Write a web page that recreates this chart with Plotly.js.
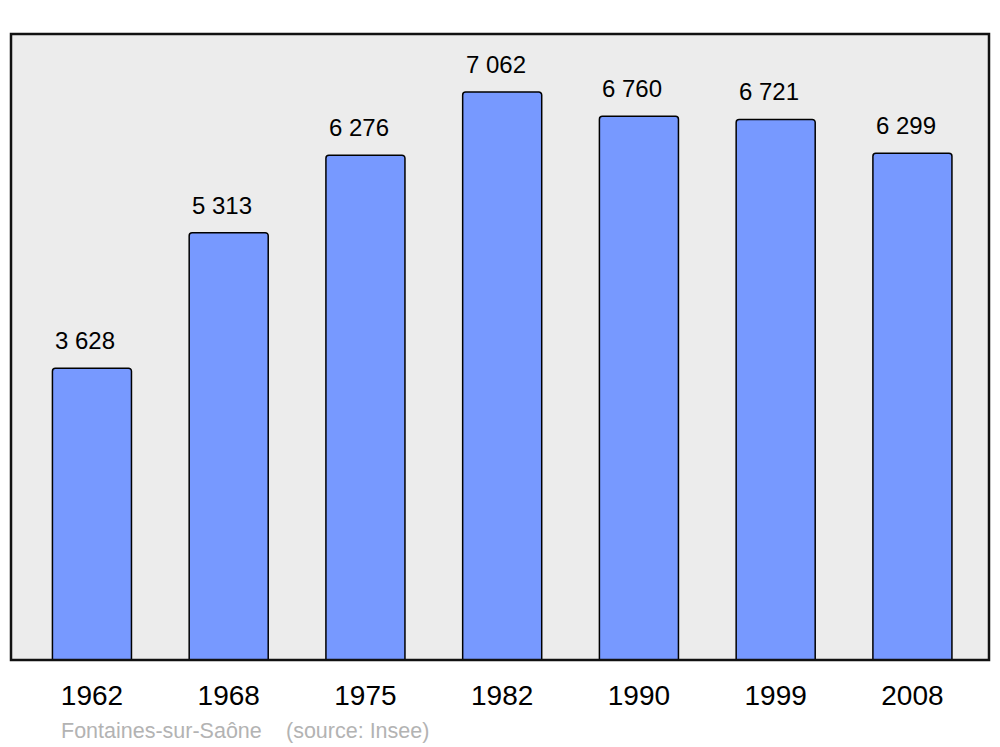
<!DOCTYPE html>
<html>
<head>
<meta charset="utf-8">
<script src="https://cdn.plot.ly/plotly-3.0.1.min.js"></script>
<style>html,body{margin:0;padding:0;background:#fff;}#chart{width:1000px;height:747px;}</style>
</head>
<body>
<div id="chart"></div>
<script>
const years = ["1962", "1968", "1975", "1982", "1990", "1999", "2008"];
const population = [3628, 5313, 6276, 7062, 6760, 6721, 6299];
const labels = ["3 628", "5 313", "6 276", "7 062", "6 760", "6 721", "6 299"];
const sourceText = ["Fontaines-sur-Saône", "(source: Insee)"];

const W = 1000, H = 747;
const ml = 11, mr = 11, mt = 34, mb = 87;
const pw = W - ml - mr;
function px(x) { return (x - ml) / pw; }

const trace = {
  type: 'bar',
  x: years.map((_, i) => i),
  y: population,
  width: 0.578,
  marker: { color: '#7799ff', line: { color: '#000', width: 1.5 }, cornerradius: 3 },
  hoverinfo: 'none'
};

const annotations = years.map((_, i) => ({
  x: i, y: population[i], xref: 'x', yref: 'y',
  text: labels[i], showarrow: false, yanchor: 'middle', yshift: 27.5, xshift: -6.5,
  font: { family: 'Liberation Sans, Arial, sans-serif', size: 24, color: '#000' }
}));
annotations.push({
  x: px(60), y: -0.113, xref: 'paper', yref: 'paper', xanchor: 'left', yanchor: 'middle',
  text: sourceText[0], showarrow: false, borderpad: 0,
  font: { family: 'Liberation Sans, Arial, sans-serif', size: 21.5, color: '#b3b3b3' }
});
annotations.push({
  x: px(285), y: -0.113, xref: 'paper', yref: 'paper', xanchor: 'left', yanchor: 'middle',
  text: sourceText[1], showarrow: false, borderpad: 0,
  font: { family: 'Liberation Sans, Arial, sans-serif', size: 21.5, color: '#b3b3b3' }
});

const layout = {
  width: W, height: H,
  margin: { l: ml, r: mr, t: mt, b: mb, pad: 0 },
  paper_bgcolor: '#fff',
  plot_bgcolor: '#ececec',
  showlegend: false,
  xaxis: {
    range: [-0.592, 6.56],
    tickmode: 'array',
    tickvals: years.map((_, i) => i),
    ticktext: years,
    ticks: '', showgrid: false, zeroline: false, showline: false,
    tickfont: { family: 'Liberation Sans, Arial, sans-serif', size: 28, color: '#000' },
    ticklabelstandoff: 16,
    ticklabelshift: -2.5,
    fixedrange: true
  },
  yaxis: {
    range: [0, 7783],
    showticklabels: false, ticks: '', showgrid: false, zeroline: false, showline: false,
    fixedrange: true
  },
  shapes: [{
    type: 'rect', xref: 'paper', yref: 'paper', x0: 0, x1: 1, y0: 0, y1: 1,
    line: { color: '#111', width: 2.5 }, layer: 'above'
  }],
  annotations: annotations
};

Plotly.newPlot('chart', [trace], layout, { displayModeBar: false, staticPlot: true });
</script>
</body>
</html>
